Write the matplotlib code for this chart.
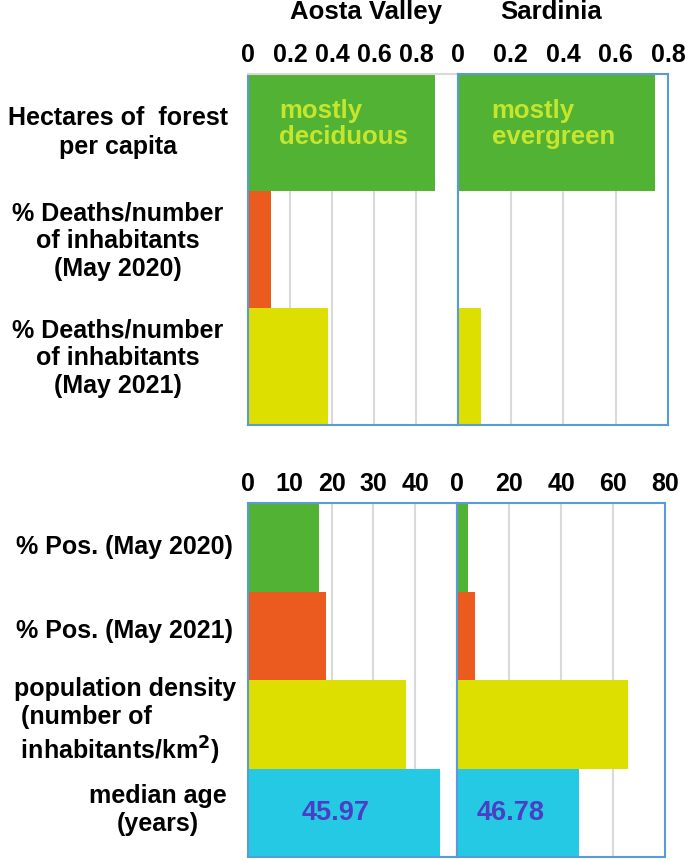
import matplotlib
matplotlib.use("Agg")
import matplotlib.pyplot as plt
from matplotlib.transforms import blended_transform_factory

plt.rcParams['font.family'] = ['Liberation Sans', 'DejaVu Sans']
plt.rcParams['font.weight'] = 'bold'

regions = ["Aosta Valley", "Sardinia"]

top_categories = ["Hectares of  forest\nper capita",
                  "% Deaths/number\nof inhabitants\n(May 2020)",
                  "% Deaths/number\nof inhabitants\n(May 2021)"]
top_aosta = [0.89, 0.11, 0.38]
top_sardinia = [0.75, 0.003, 0.087]
top_ticks_aosta = [0, 0.2, 0.4, 0.6, 0.8]
top_ticks_sardinia = [0, 0.2, 0.4, 0.6, 0.8]
top_notes = ["mostly\ndeciduous", "mostly\nevergreen"]

bot_categories = ["% Pos. (May 2020)",
                  "% Pos. (May 2021)",
                  "population density\n (number of\n inhabitants/km$^{2}$)",
                  "median age\n(years)"]
bot_aosta = [16.9, 18.6, 37.9, 45.97]
bot_sardinia = [4.2, 6.9, 65.8, 46.78]
bot_ticks_aosta = [0, 10, 20, 30, 40]
bot_ticks_sardinia = [0, 20, 40, 60, 80]
median_labels = ["45.97", "46.78"]

top_colors = ['#52B233', '#EB5A1E', '#DDDF00']
bot_colors = ['#52B233', '#EB5A1E', '#DDDF00', '#25C9E3']
spine_col = '#5B9BD5'
grid_col = '#D9D9D9'

W, H = 685, 860
fig = plt.figure(figsize=(W / 100, H / 100), dpi=100)


def px_axes(x0, x1, ytop, ybot):
    return fig.add_axes([x0 / W, (H - ybot) / H, (x1 - x0) / W, (ybot - ytop) / H])


ax_tl = px_axes(248, 458, 74, 425)
ax_tr = px_axes(458, 668, 74, 425)
ax_bl = px_axes(248, 457, 503, 857)
ax_br = px_axes(457, 665, 503, 857)


def style(ax, vals, colors, ticks, xlim, n):
    ys = list(range(n))
    ax.barh(ys, vals, height=1.0, color=colors, zorder=2)
    ax.set_ylim(n - 0.5, -0.5)
    ax.set_xlim(*xlim)
    ax.set_xticks(ticks)
    ax.set_xticklabels([f"{t:g}" for t in ticks], fontsize=18, fontweight='bold')
    ax.xaxis.tick_top()
    ax.tick_params(axis='x', length=0, pad=5)
    ax.set_yticks([])
    ax.grid(axis='x', color=grid_col, lw=1.5, zorder=1)
    ax.set_axisbelow(True)
    for s in ax.spines.values():
        s.set_color(spine_col)
        s.set_linewidth(1.5)


style(ax_tl, top_aosta, top_colors, top_ticks_aosta, (0, 1.0), 3)
style(ax_tr, top_sardinia, top_colors, top_ticks_sardinia, (0, 0.8), 3)
style(ax_bl, bot_aosta, bot_colors, bot_ticks_aosta, (0, 50), 4)
style(ax_br, bot_sardinia, bot_colors, bot_ticks_sardinia, (0, 80), 4)
ax_tl.spines['top'].set_color(grid_col)

# Titles
fig.text(366 / W, 1 - 12 / H, regions[0], ha='center', va='center', fontsize=18.5, fontweight='bold')
fig.text(551 / W, 1 - 12 / H, regions[1], ha='center', va='center', fontsize=18.5, fontweight='bold')

# Notes inside green bars
ax_tl.text(0.15, -0.07, top_notes[0], color='#C6E62E', fontsize=18.5, fontweight='bold',
           ha='left', va='center', linespacing=1.1)
ax_tr.text(0.128, -0.07, top_notes[1], color='#C6E62E', fontsize=18.5, fontweight='bold',
           ha='left', va='center', linespacing=1.1)

# Median age labels
ax_bl.text(21, 3, median_labels[0], color='#4A3FC4', fontsize=19.5, fontweight='bold',
           ha='center', va='center')
ax_br.text(20.8, 3, median_labels[1], color='#4A3FC4', fontsize=19.5, fontweight='bold',
           ha='center', va='center')

# Category labels
tr_top = blended_transform_factory(fig.transFigure, ax_tl.transData)
for i, lab in enumerate(top_categories):
    dy = 0.0 if i == 0 else -0.07
    fig.text(118 / W, i + dy, lab, transform=tr_top, ha='center', va='center',
             multialignment='center', fontsize=18, fontweight='bold', linespacing=1.22)

tr_bot = blended_transform_factory(fig.transFigure, ax_bl.transData)
bot_specs = [(233, 'right', 'right', 0.0),
             (233, 'right', 'right', -0.05),
             (236, 'right', 'left', -0.03),
             (158, 'center', 'center', -0.03)]
for i, lab in enumerate(bot_categories):
    x, ha, ma, dy = bot_specs[i]
    fig.text(x / W, i + dy, lab, transform=tr_bot, ha=ha, va='center',
             multialignment=ma, fontsize=18, fontweight='bold', linespacing=1.22)

fig.savefig("out.png", dpi=100)
